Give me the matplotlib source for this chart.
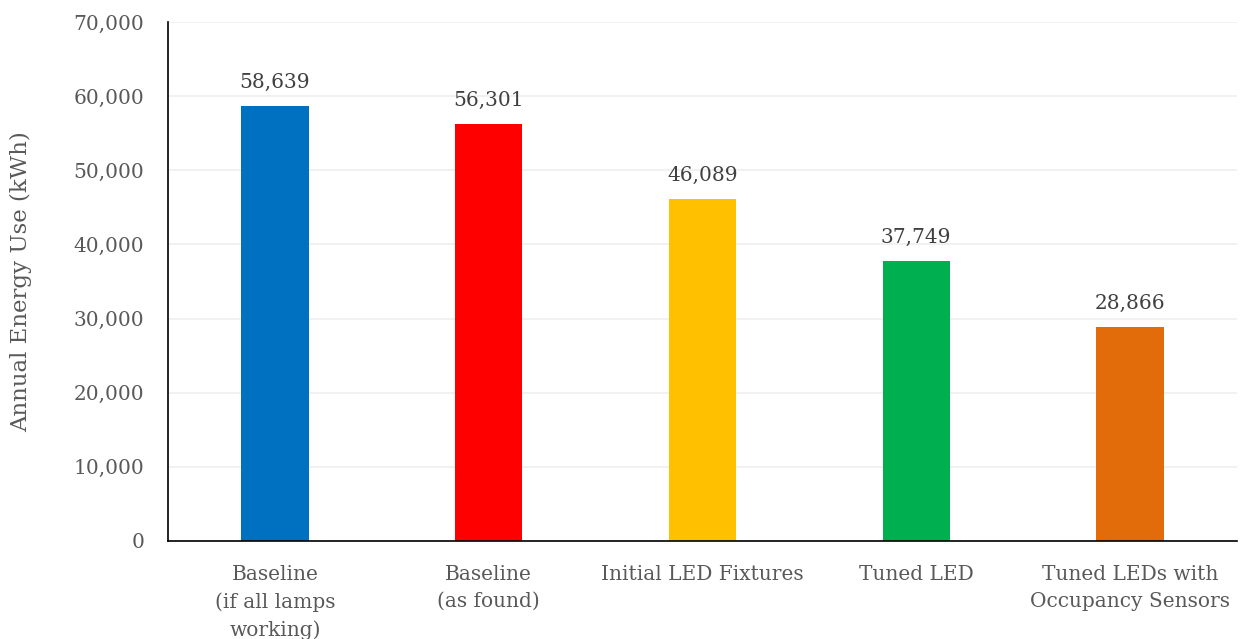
import matplotlib.pyplot as plt
from matplotlib.ticker import FuncFormatter

# Annual lighting energy use per scenario
categories = ['Baseline\n(if all lamps\nworking)', 'Baseline\n(as found)',
              'Initial LED Fixtures', 'Tuned LED',
              'Tuned LEDs with\nOccupancy Sensors']
energy_kwh = [58639, 56301, 46089, 37749, 28866]
bar_colors = ['#0070C0', '#FF0000', '#FFC000', '#00B050', '#E36C0A']

plt.rcParams['font.family'] = ['DejaVu Serif']

fig = plt.figure(figsize=(12.4, 6.39), dpi=100)
ax = fig.add_axes([0.1355, 0.1534, 0.862, 0.8122])

x = range(len(categories))
bars = ax.bar(x, energy_kwh, width=0.315, color=bar_colors, zorder=2)

# Value labels above each bar
for rect, val in zip(bars, energy_kwh):
    ax.annotate(f'{val:,}', (rect.get_x() + rect.get_width() / 2, val),
                xytext=(0, 10), textcoords='offset points',
                ha='center', va='bottom', fontsize=14.5, color='#404040')

ax.set_xlim(-0.5, len(categories) - 0.5)
ax.set_ylim(0, 70000)
ax.set_yticks(range(0, 70001, 10000))
ax.yaxis.set_major_formatter(FuncFormatter(lambda v, p: f'{int(v):,}'))
ax.set_xticks(list(x))
ax.set_xticklabels(categories, linespacing=1.55)

ax.tick_params(axis='y', length=0, pad=17, labelsize=14.5, labelcolor='#595959')
ax.tick_params(axis='x', length=0, pad=17, labelsize=14.5, labelcolor='#595959')

ax.set_ylabel('Annual Energy Use (kWh)', fontsize=16.5, color='#595959', labelpad=30)

ax.grid(axis='y', color='#EFEFEF', linewidth=1.2, zorder=0)
for side in ['top', 'right']:
    ax.spines[side].set_visible(False)
ax.spines['left'].set_color('black')
ax.spines['bottom'].set_color('black')
ax.spines['left'].set_linewidth(1.2)
ax.spines['bottom'].set_linewidth(1.2)

fig.savefig('out.png', dpi=100)
